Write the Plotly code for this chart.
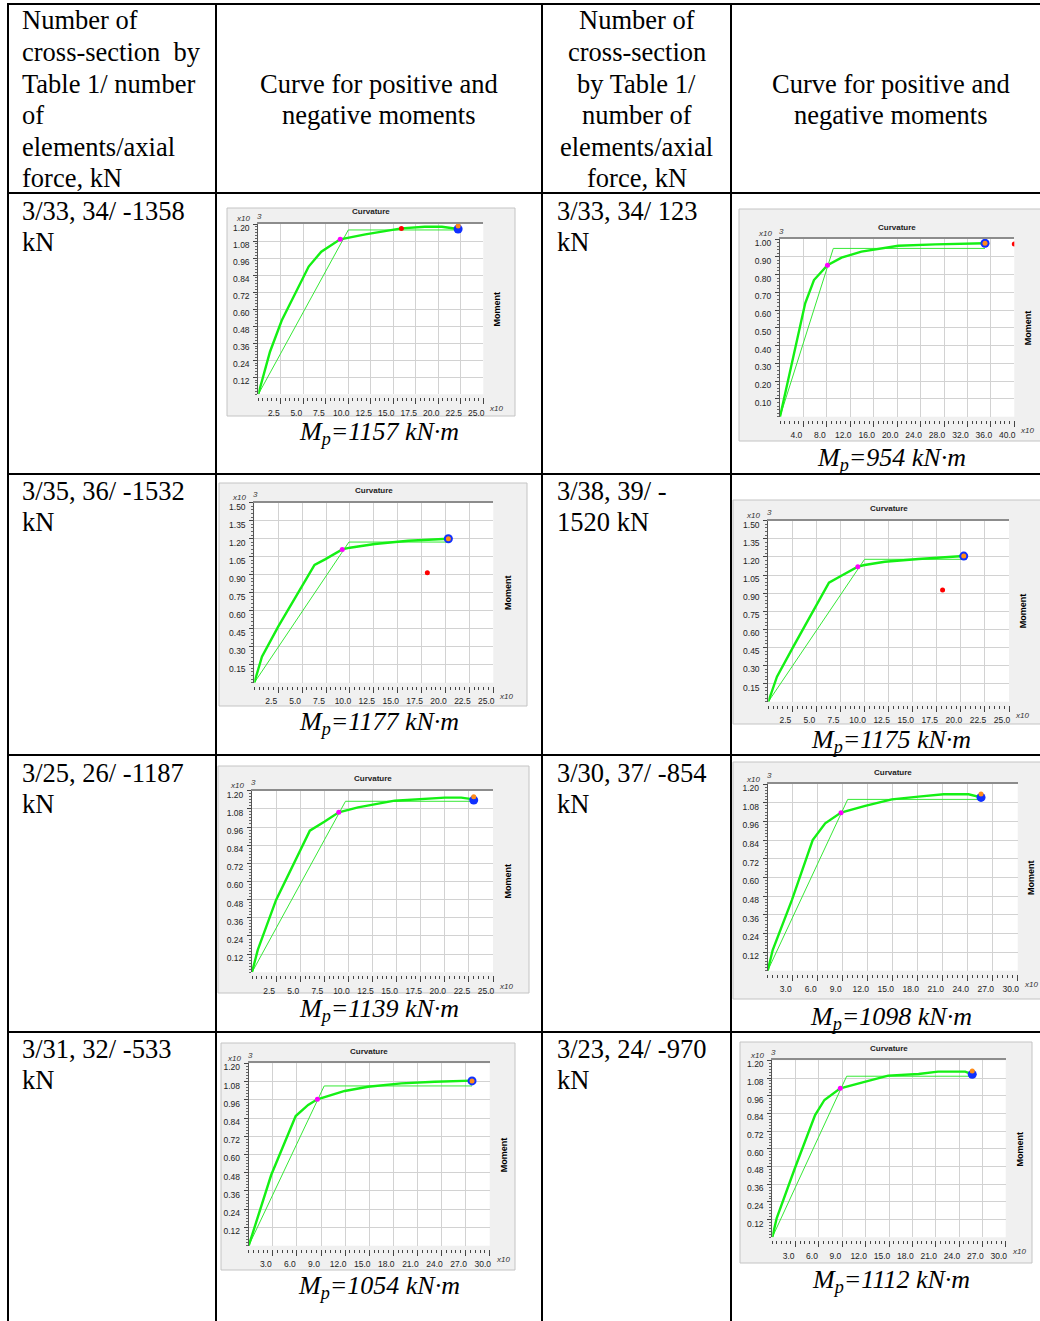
import plotly.graph_objects as go

# ---------------- table text ----------------
header_left = ["Number of", "cross-section\u2002by", "Table 1/ number", "of", "elements/axial", "force, kN"]
header_mid = ["Number of", "cross-section", "by Table 1/", "number of", "elements/axial", "force, kN"]
header_curve = ["Curve for positive and", "negative moments"]
row_labels_left = [["3/33, 34/ -1358", "kN"], ["3/35, 36/ -1532", "kN"],
                   ["3/25, 26/ -1187", "kN"], ["3/31, 32/ -533", "kN"]]
row_labels_right = [["3/33, 34/ 123", "kN"], ["3/38, 39/ -", "1520 kN"],
                    ["3/30, 37/ -854", "kN"], ["3/23, 24/ -970", "kN"]]
mp_values = [1157, 954, 1177, 1175, 1139, 1098, 1054, 1112]

# ---------------- tick labels ----------------
x_ticks_25 = [2.5, 5.0, 7.5, 10.0, 12.5, 15.0, 17.5, 20.0, 22.5, 25.0]
x_ticks_30 = [3.0, 6.0, 9.0, 12.0, 15.0, 18.0, 21.0, 24.0, 27.0, 30.0]
x_ticks_40 = [4.0, 8.0, 12.0, 16.0, 20.0, 24.0, 28.0, 32.0, 36.0, 40.0]
y_ticks_120 = [0.12, 0.24, 0.36, 0.48, 0.60, 0.72, 0.84, 0.96, 1.08, 1.20]
y_ticks_150 = [0.15, 0.30, 0.45, 0.60, 0.75, 0.90, 1.05, 1.20, 1.35, 1.50]
y_ticks_100 = [0.10, 0.20, 0.30, 0.40, 0.50, 0.60, 0.70, 0.80, 0.90, 1.00]

# ---------------- series (curvature x10^-3, moment x10^3) ----------------
curv_1 = [0, 1.3, 2.6, 5.6, 7.0, 9.1, 11.9, 15.9, 18.5, 20.4, 22.2]
mom_1 = [0, 0.30, 0.52, 0.90, 1.005, 1.092, 1.127, 1.169, 1.181, 1.181, 1.165]
bil_curv_1 = [0, 10.0, 22.2]
bil_mom_1 = [0, 1.158, 1.158]

curv_2 = [0, 2.3, 4.3, 5.8, 8.1, 10.5, 13.9, 20.2, 26.5, 35.0]
mom_2 = [0, 0.347, 0.638, 0.769, 0.852, 0.895, 0.929, 0.962, 0.970, 0.976]
bil_curv_2 = [0, 9.1, 35.0]
bil_mom_2 = [0, 0.947, 0.947]

curv_3 = [0, 0.8, 2.5, 6.3, 7.4, 9.2, 10.0, 12.6, 16.1, 20.3]
mom_3 = [0, 0.217, 0.467, 0.981, 1.028, 1.111, 1.125, 1.156, 1.183, 1.200]
bil_curv_3 = [0, 9.9, 20.3]
bil_mom_3 = [0, 1.172, 1.172]

curv_4 = [0, 0.9, 2.6, 6.3, 7.4, 9.3, 10.0, 12.1, 15.6, 20.3]
mom_4 = [0, 0.207, 0.456, 0.986, 1.036, 1.119, 1.133, 1.160, 1.182, 1.207]
bil_curv_4 = [0, 10.0, 20.3]
bil_mom_4 = [0, 1.18, 1.18]

curv_5 = [0, 0.6, 2.5, 6.0, 7.5, 9.0, 11.0, 14.8, 20.0, 21.7, 23.0]
mom_5 = [0, 0.148, 0.478, 0.936, 0.995, 1.057, 1.090, 1.134, 1.154, 1.154, 1.143]
bil_curv_5 = [0, 9.7, 23.0]
bil_mom_5 = [0, 1.13, 1.13]

curv_6 = [0, 0.6, 2.9, 5.4, 6.9, 8.8, 11.7, 14.9, 18.1, 21.1, 24.1, 25.6]
mom_6 = [0, 0.133, 0.454, 0.840, 0.947, 1.016, 1.059, 1.101, 1.119, 1.134, 1.134, 1.114]
bil_curv_6 = [0, 9.6, 25.6]
bil_mom_6 = [0, 1.101, 1.101]

curv_7 = [0, 2.8, 5.85, 7.4, 8.55, 11.95, 14.85, 19.0, 23.15, 27.8]
mom_7 = [0, 0.465, 0.853, 0.926, 0.963, 1.018, 1.046, 1.068, 1.079, 1.086]
bil_curv_7 = [0, 9.4, 27.8]
bil_mom_7 = [0, 1.051, 1.051]

curv_8 = [0, 0.56, 2.9, 5.5, 6.7, 8.74, 11.5, 14.9, 18.8, 21.3, 24.8, 25.7]
mom_8 = [0, 0.129, 0.468, 0.829, 0.931, 1.01, 1.049, 1.096, 1.107, 1.123, 1.123, 1.105]
bil_curv_8 = [0, 9.56, 25.7]
bil_mom_8 = [0, 1.092, 1.092]

# special points: (curvature, moment)
yield_pts = [(9.1, 1.092), (8.1, 0.852), (9.2, 1.111), (9.3, 1.119),
             (9.0, 1.057), (8.8, 1.016), (8.55, 0.963), (8.74, 1.01)]
red_pts = [(15.9, 1.169), (40.0, 0.972), (18.1, 0.917), (18.1, 0.925),
           None, None, None, None]
ult_pts = [(22.2, 1.165), (35.0, 0.976), (20.3, 1.200), (20.3, 1.207),
           (23.0, 1.138), (25.6, 1.114), (27.8, 1.084), (25.7, 1.105)]
ult_alt_pts = [(22.2, 1.186), (35.0, 0.976), (20.3, 1.200), (20.3, 1.207),
               (23.0, 1.160), (25.6, 1.136), (27.8, 1.084), (25.7, 1.128)]

series = [
    (curv_1, mom_1, bil_curv_1, bil_mom_1, x_ticks_25, y_ticks_120),
    (curv_2, mom_2, bil_curv_2, bil_mom_2, x_ticks_40, y_ticks_100),
    (curv_3, mom_3, bil_curv_3, bil_mom_3, x_ticks_25, y_ticks_150),
    (curv_4, mom_4, bil_curv_4, bil_mom_4, x_ticks_25, y_ticks_150),
    (curv_5, mom_5, bil_curv_5, bil_mom_5, x_ticks_25, y_ticks_120),
    (curv_6, mom_6, bil_curv_6, bil_mom_6, x_ticks_30, y_ticks_120),
    (curv_7, mom_7, bil_curv_7, bil_mom_7, x_ticks_30, y_ticks_120),
    (curv_8, mom_8, bil_curv_8, bil_mom_8, x_ticks_30, y_ticks_120),
]

# ---------------- layout geometry (pixels) ----------------
W, H = 1040, 1321
plot_boxes = [  # L, R, T, B of plot area
    (258.3, 483.3, 224.0, 394.3),
    (780.0, 1014.3, 239.0, 416.7),
    (254.3, 493.3, 502.7, 682.7),
    (768.3, 1009.0, 520.7, 701.7),
    (252.0, 493.0, 790.7, 972.3),
    (767.7, 1017.7, 784.0, 970.7),
    (248.7, 489.7, 1063.3, 1245.7),
    (772.3, 1005.7, 1060.3, 1237.3),
]
panels = [
    (227, 208, 515, 416), (739, 209, 1041, 441),
    (219, 483, 527, 706), (733, 500, 1041, 724),
    (218, 766, 529, 993), (733, 762, 1041, 999),
    (221, 1043, 515, 1270), (740, 1042, 1032, 1263),
]
mp_pos = [(379, 433), (891, 459), (379, 723), (891, 741),
          (379, 1010), (891, 1018), (379, 1287), (891, 1281)]


def fx(p):
    return p / W


def fy(p):
    return 1 - p / H


SERIF = "Liberation Serif, Times New Roman, serif"
SANS = "Liberation Sans, Arial, sans-serif"
NARROW = "Liberation Sans Narrow, Arial Narrow, Liberation Sans, Arial, sans-serif"

fig = go.Figure()
shapes = []
annotations = []
layout_axes = {}


def ann(x, y, text, size, family, xanchor="center", yanchor="middle",
        color="black", angle=0):
    annotations.append(dict(
        x=fx(x), y=fy(y), xref="paper", yref="paper", text=text,
        showarrow=False, xanchor=xanchor, yanchor=yanchor, textangle=angle,
        font=dict(size=size, family=family, color=color), borderpad=0))


def rect(x0, y0, x1, y1, fill, line=None, lw=0):
    shapes.append(dict(type="rect", xref="paper", yref="paper",
                       x0=fx(x0), x1=fx(x1), y0=fy(y1), y1=fy(y0),
                       fillcolor=fill, layer="below",
                       line=dict(color=line or fill, width=lw)))


for i, (cv, mm, bcv, bmm, xt, yt) in enumerate(series):
    n = i + 1
    L, R, T, B = plot_boxes[i]
    xmax = xt[-1]
    ymax = yt[-1]
    xstep = xt[1] - xt[0]
    ystep = yt[1] - yt[0]
    xid = "x" if n == 1 else f"x{n}"
    yid = "y" if n == 1 else f"y{n}"
    oid = f"x{n + 8}"
    xkey = "xaxis" if n == 1 else f"xaxis{n}"
    ykey = "yaxis" if n == 1 else f"yaxis{n}"
    okey = f"xaxis{n + 8}"

    px0, py0, px1, py1 = panels[i]
    rect(px0, py0, px1, py1, "#f0f0f0", "#c4c4c4", 1)
    rect(L, T, R, B, "#ffffff")

    layout_axes[xkey] = dict(
        domain=[fx(L), fx(R)], range=[0, xmax], anchor=yid, side="top",
        showline=True, linecolor="#8c8c8c", linewidth=2,
        showgrid=True, gridcolor="#d2d2d2", gridwidth=1,
        tickmode="array", tickvals=xt, showticklabels=False, ticks="",
        zeroline=False, fixedrange=True, automargin=False)
    layout_axes[okey] = dict(
        overlaying=xid, anchor="free", position=fy(B + 3), side="bottom",
        range=[0, xmax], showgrid=False, zeroline=False, showline=False,
        tickmode="array", tickvals=xt, ticktext=[f"{v:.1f}" for v in xt],
        ticks="outside", ticklen=6, tickwidth=1, tickcolor="#444444",
        minor=dict(tickmode="linear", tick0=0, dtick=xstep / 5,
                   ticks="outside", ticklen=3, tickwidth=1, tickcolor="#444444"),
        tickfont=dict(family=NARROW, size=8.5, color="#222222"),
        ticklabelshift=-7, ticklabelstandoff=1, fixedrange=True, automargin=False)
    layout_axes[ykey] = dict(
        domain=[fy(B), fy(T)], range=[0, ymax], anchor=xid,
        showline=True, linecolor="#555555", linewidth=1,
        showgrid=True, gridcolor="#d2d2d2", gridwidth=1,
        tickmode="array", tickvals=yt, ticktext=[f"{v:.2f}" for v in yt],
        ticks="outside", ticklen=4, tickwidth=1, tickcolor="#444444",
        minor=dict(tickmode="linear", tick0=0, dtick=ystep / 6 if abs(ystep - 0.12) < 1e-6 else ystep / 5,
                   ticks="outside", ticklen=2, tickwidth=1, tickcolor="#666666"),
        tickfont=dict(family=NARROW, size=8.5, color="#222222"),
        ticklabelshift=4, ticklabelstandoff=2,
        zeroline=False, fixedrange=True, automargin=False)

    # bilinear idealisation (thin)
    fig.add_trace(go.Scatter(x=bcv, y=bmm, mode="lines", xaxis=xid, yaxis=yid,
                             line=dict(color="#36e836", width=1), hoverinfo="skip",
                             showlegend=False))
    # moment-curvature curve (thick)
    fig.add_trace(go.Scatter(x=cv, y=mm, mode="lines", xaxis=oid, yaxis=yid,
                             line=dict(color="#14f014", width=2.4), hoverinfo="skip",
                             showlegend=False))
    # special points
    yx, yy = yield_pts[i]
    fig.add_trace(go.Scatter(x=[yx], y=[yy], mode="markers", xaxis=oid, yaxis=yid,
                             marker=dict(color="#ff00ff", size=5), showlegend=False))
    if red_pts[i] is not None:
        rx, ry = red_pts[i]
        fig.add_trace(go.Scatter(x=[rx], y=[ry], mode="markers", xaxis=oid, yaxis=yid,
                                 marker=dict(color="#ff0000", size=5), showlegend=False))
    ux, uy = ult_pts[i]
    fig.add_trace(go.Scatter(x=[ux], y=[uy], mode="markers", xaxis=oid, yaxis=yid,
                             marker=dict(color="#1030ff", size=9), showlegend=False))
    ox, oy = ult_alt_pts[i]
    fig.add_trace(go.Scatter(x=[ox], y=[oy], mode="markers", xaxis=oid, yaxis=yid,
                             marker=dict(color="#ff8c1a", size=5), showlegend=False))

    # chart decorations
    ann((L + R) / 2, T - 12, "<b>Curvature</b>", 8, SANS, color="#222222")
    ann(R + 14, (T + B) / 2, "<b>Moment</b>", 9, SANS, angle=-90)
    ann(L - 7, T - 5, "<i>x10</i>", 8, SANS, xanchor="right", color="#333333")
    ann(L - 2, T - 8, "<i>3</i>", 8, SANS, xanchor="left", color="#333333")
    ann(R + 5, B + 14, "<i>x10</i>", 8, SANS, xanchor="left", color="#333333")

    mx, my = mp_pos[i]
    ann(mx, my, f"<i>M<sub>p</sub>={mp_values[i]} kN·m</i>", 26, SERIF)

# ---------------- table text ----------------
line_y = [20, 52, 84, 115, 147, 178]
for k, t in enumerate(header_left):
    ann(21, line_y[k], t, 26.5, SERIF, xanchor="left")
for k, t in enumerate(header_mid):
    ann(636.5, line_y[k], t, 26.5, SERIF)
for k, t in enumerate(header_curve):
    ann(379, [84, 115][k], t, 26.5, SERIF)
    ann(891, [84, 115][k], t, 26.5, SERIF)

row_top = [211, 491, 773, 1049]
for r in range(4):
    for k in range(2):
        ann(21, row_top[r] + 31 * k, row_labels_left[r][k], 26.5, SERIF, xanchor="left")
        ann(556, row_top[r] + 31 * k, row_labels_right[r][k], 26.5, SERIF, xanchor="left")

# ---------------- table rules ----------------
for xv in [8, 216, 542, 731]:
    shapes.append(dict(type="line", xref="paper", yref="paper",
                       x0=fx(xv), x1=fx(xv), y0=fy(3), y1=fy(H + 2),
                       line=dict(color="black", width=2), layer="above"))
for yv in [4, 193, 474, 755, 1032]:
    shapes.append(dict(type="line", xref="paper", yref="paper",
                       x0=fx(7), x1=fx(W + 2), y0=fy(yv), y1=fy(yv),
                       line=dict(color="black", width=2), layer="above"))

fig.update_layout(
    width=W, height=H, autosize=False,
    margin=dict(l=0, r=0, t=0, b=0, pad=0, autoexpand=False),
    paper_bgcolor="white", plot_bgcolor="rgba(0,0,0,0)",
    showlegend=False, shapes=shapes, annotations=annotations,
    **layout_axes)

fig.write_html("out.html", config={"displayModeBar": False, "staticPlot": True},
               post_script="document.body.style.margin='0';document.body.style.overflow='hidden';")
